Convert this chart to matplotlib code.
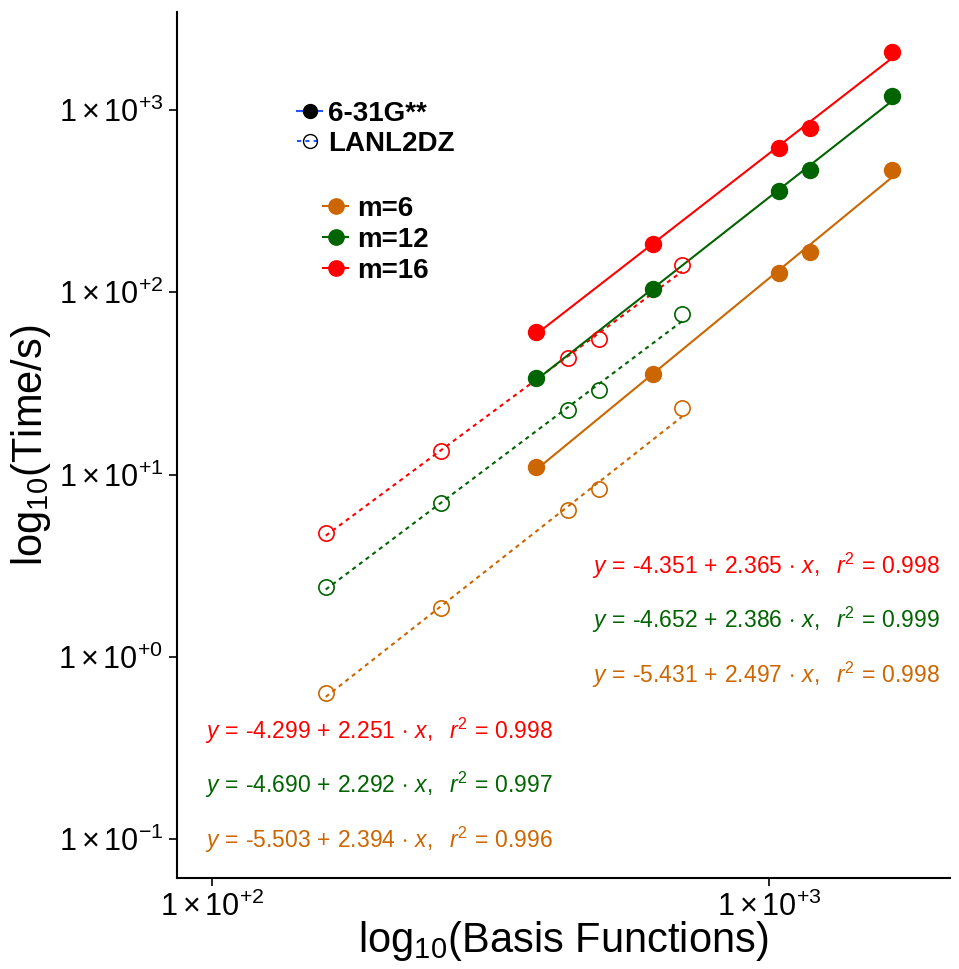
import numpy as np
import matplotlib
matplotlib.use("Agg")
import matplotlib.pyplot as plt
from matplotlib.lines import Line2D
from matplotlib.ticker import FixedLocator, FixedFormatter, NullLocator

plt.rcParams['font.family'] = ['Liberation Sans', 'DejaVu Sans']
plt.rcParams['mathtext.fontset'] = 'custom'
plt.rcParams['mathtext.rm'] = 'Liberation Sans'
plt.rcParams['mathtext.it'] = 'Liberation Sans:italic'
plt.rcParams['mathtext.bf'] = 'Liberation Sans:bold'

# ---- data ----
basis_631g = [382, 619, 1042, 1183, 1663]
basis_lanl = [160, 258, 436, 496, 698]

time_631g_m6 = [11.0, 35.6, 128, 166, 469]
time_631g_m12 = [33.9, 104, 358, 469, 1189]
time_631g_m16 = [60.6, 184, 619, 800, 2073]

time_lanl_m6 = [0.637, 1.85, 6.40, 8.34, 23.2]
time_lanl_m12 = [2.43, 6.96, 22.6, 29.1, 76.0]
time_lanl_m16 = [4.78, 13.5, 43.6, 55.4, 141]

series_labels = ['m=6', 'm=12', 'm=16']
colors = ['#CC6600', '#006400', '#FF0000']

intercepts_631g = ['-5.431', '-4.652', '-4.351']
slopes_631g = ['2.497', '2.386', '2.365']
r2_631g = ['0.998', '0.999', '0.998']
intercepts_lanl = ['-5.503', '-4.690', '-4.299']
slopes_lanl = ['2.394', '2.292', '2.251']
r2_lanl = ['0.996', '0.997', '0.998']

def eq(a, b, r2):
    return (r'$y\,=\,\text{' + a + r'}\,+\,' + b + r'\,\cdot\,x,\ \ r^2\,=\,' + r2 + '$')

xticks = [1e2, 1e3]
xticklabels = [r'$1\times10^{+2}$', r'$1\times10^{+3}$']
yticks = [1e-1, 1e0, 1e1, 1e2, 1e3]
yticklabels = [r'$1\times10^{-1}$', r'$1\times10^{+0}$', r'$1\times10^{+1}$',
               r'$1\times10^{+2}$', r'$1\times10^{+3}$']

W, H = 959, 969
fig = plt.figure(figsize=(W / 100, H / 100), dpi=100)
ax = fig.add_axes([177 / W, (H - 878) / H, (950 - 177) / W, (878 - 12) / H])
ax.set_xscale('log')
ax.set_yscale('log')
ax.set_xlim(86.5, 2114)
ax.set_ylim(0.0612, 3449)

solid = [time_631g_m6, time_631g_m12, time_631g_m16]
opened = [time_lanl_m6, time_lanl_m12, time_lanl_m16]

def fitline(xs, ys):
    lx, ly = np.log10(xs), np.log10(ys)
    b, a = np.polyfit(lx, ly, 1)
    xx = np.array([lx[0], lx[-1]])
    return 10 ** xx, 10 ** (a + b * xx)

for ys, c in zip(opened, colors):
    fx, fy = fitline(basis_lanl, ys)
    ax.plot(fx, fy, color=c, lw=1.5, linestyle=(0, (2, 2)), zorder=2)
    ax.plot(basis_lanl, ys, 'o', ms=11, mfc='none', mec=c, mew=1.2, zorder=3)
for ys, c in zip(solid, colors):
    fx, fy = fitline(basis_631g, ys)
    ax.plot(fx, fy, color=c, lw=1.5, zorder=2)
    ax.plot(basis_631g, ys, 'o', ms=11.5, mfc=c, mec=c, zorder=4)

for s in ['top', 'right']:
    ax.spines[s].set_visible(False)
for s in ['left', 'bottom']:
    ax.spines[s].set_linewidth(1.5)

ax.xaxis.set_major_locator(FixedLocator(xticks))
ax.xaxis.set_major_formatter(FixedFormatter(xticklabels))
ax.yaxis.set_major_locator(FixedLocator(yticks))
ax.yaxis.set_major_formatter(FixedFormatter(yticklabels))
ax.xaxis.set_minor_locator(NullLocator())
ax.yaxis.set_minor_locator(NullLocator())
ax.tick_params(axis='both', which='major', labelsize=22, length=6, width=1.2,
               direction='out', pad=4)

ax.set_xlabel(r'log$_{10}$(Basis Functions)', fontsize=30, labelpad=-3)
ax.set_ylabel(r'log$_{10}$(Time/s)', fontsize=30, labelpad=4)

# legends
fs_leg = 20
h1 = [Line2D([], [], color='#2255FF', lw=1.5, marker='o', ms=10, mfc='black', mec='black'),
      Line2D([], [], color='#2255FF', lw=1.5, linestyle=(0, (2, 2)), marker='o', ms=10,
             mfc='none', mec='black')]
leg1 = ax.legend(h1, ['6-31G**', 'LANL2DZ'], loc='upper left',
                 bbox_to_anchor=(297 / W, 1 - 101 / H), bbox_transform=fig.transFigure,
                 frameon=False, prop={'weight': 'bold', 'size': fs_leg},
                 handlelength=0.9, handletextpad=0.22, labelspacing=0.15,
                 borderaxespad=0, borderpad=0)
ax.add_artist(leg1)
h2 = [Line2D([], [], color=c, lw=1.5, marker='o', ms=11, mfc=c, mec=c) for c in colors]
ax.legend(h2, series_labels, loc='upper left',
          bbox_to_anchor=(323 / W, 1 - 196 / H), bbox_transform=fig.transFigure,
          frameon=False, prop={'weight': 'bold', 'size': fs_leg},
          handlelength=0.9, handletextpad=0.32, labelspacing=0.18,
          borderaxespad=0, borderpad=0)

right_y = [675, 620, 566]
left_y = [840, 785, 731]
for a, b, r2, c, yy in zip(intercepts_631g, slopes_631g, r2_631g, colors, right_y):
    fig.text(940 / W, 1 - yy / H, eq(a, b, r2), color=c, fontsize=16.5, ha='right', va='center')
for a, b, r2, c, yy in zip(intercepts_lanl, slopes_lanl, r2_lanl, colors, left_y):
    fig.text(205 / W, 1 - yy / H, eq(a, b, r2), color=c, fontsize=16.5, ha='left', va='center')

fig.savefig('out.png', dpi=100)
